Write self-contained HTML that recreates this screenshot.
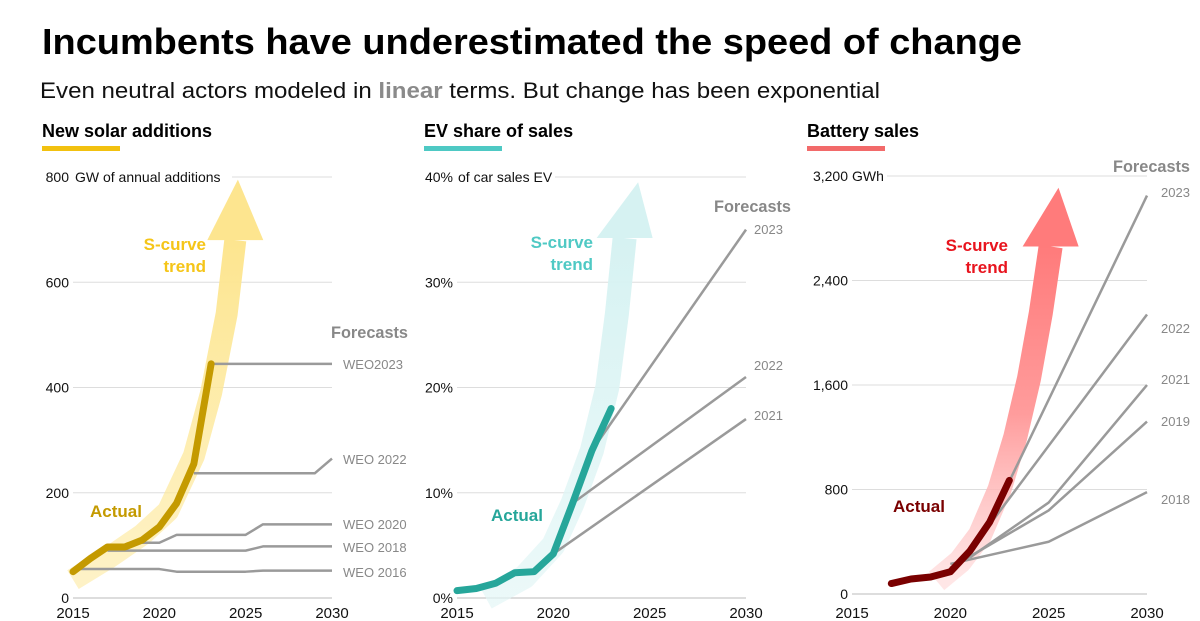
<!DOCTYPE html>
<html><head><meta charset="utf-8"><style>
html,body{margin:0;padding:0;background:#fff;}
svg{display:block;font-family:"Liberation Sans",sans-serif;}
</style></head><body>
<svg id="root" width="1200" height="621" viewBox="0 0 1200 621">
<defs>
<linearGradient id="gSolar" x1="0" y1="1" x2="0" y2="0"><stop offset="0" stop-color="#fdeaa0" stop-opacity="0.6"/><stop offset="1" stop-color="#fde58f"/></linearGradient>
<linearGradient id="gEv" x1="0" y1="1" x2="0" y2="0"><stop offset="0" stop-color="#e3f6f6" stop-opacity="0.7"/><stop offset="1" stop-color="#d6f2f2"/></linearGradient>
<linearGradient id="gBat" x1="0" y1="1" x2="0" y2="0"><stop offset="0" stop-color="#ffd6d6" stop-opacity="0.6"/><stop offset="0.5" stop-color="#ff9c9c"/><stop offset="1" stop-color="#ff7b7b"/></linearGradient>
</defs>
<text x="42" y="54" font-size="36" font-weight="bold" fill="#000" textLength="980" lengthAdjust="spacingAndGlyphs">Incumbents have underestimated the speed of change</text>
<text x="40" y="98" font-size="22" fill="#111" textLength="840" lengthAdjust="spacingAndGlyphs">Even neutral actors modeled in <tspan font-weight="bold" fill="#8a8a8a">linear</tspan> terms. But change has been exponential</text>
<g id="p1"></g>
<g id="p2"></g>
<g id="p3"></g>
</svg>
<script>
// ---------- Solar data ----------
const solarYears = [2015,2016,2017,2018,2019,2020,2021,2022,2023];
const solarActual = [50,75,97,97,110,135,180,255,445];
const solarTicks = [0,200,400,600,800];
const solarTickLabels = ["0","200","400","600","800"];
const solarFcNames = ["WEO2023","WEO 2022","WEO 2020","WEO 2018","WEO 2016"];
const solarFcYears = [[2023,2030],[2022,2029,2030],[2019,2020,2021,2025,2026,2030],[2017,2025,2026,2030],[2015,2020,2021,2025,2026,2030]];
const solarFcVals = [[445,445],[237,237,265],[105,105,120,120,140,140],[90,90,98,98],[55,55,50,50,52,52]];
const solarTrendYears = [2015,2017,2019,2020.5,2022,2023,2023.9,2024.4];
const solarTrendVals = [35,75,120,165,270,390,540,680];
const solarTip = [2024.55,795];
// ---------- EV data ----------
const evYears = [2015,2016,2017,2018,2019,2020,2021,2022,2023];
const evActual = [0.7,0.9,1.4,2.4,2.5,4.2,9,14,18];
const evTicks = [0,10,20,30,40];
const evTickLabels = ["0%","10%","20%","30%","40%"];
const evFcNames = ["2023","2022","2021"];
const evFcYears = [[2022,2030],[2021,2030],[2020,2030]];
const evFcVals = [[14,35],[9,21],[4.2,17]];
const evTrendYears = [2016.5,2018.5,2020,2021,2022,2022.8,2023.3,2023.7];
const evTrendVals = [0,2,5,9,14,20,27,34.2];
const evTip = [2024.4,39.5];
// ---------- Battery data ----------
const batYears = [2017,2018,2019,2020,2021,2022,2023];
const batActual = [80,115,130,170,330,550,870];
const batTicks = [0,800,1600,2400,3200];
const batTickLabels = ["0","800","1,600","2,400","3,200"];
const batFcNames = ["2023","2022","2021","2019","2018"];
const batFcYears = [[2022,2030],[2021,2030],[2021,2025,2030],[2020,2025,2030],[2020,2025,2030]];
const batFcVals = [[550,3050],[330,2140],[280,700,1600],[200,640,1320],[230,400,780]];
const batTrendYears = [2019.3,2020.5,2021.5,2022.5,2023.3,2024,2024.6,2025.1];
const batTrendVals = [100,250,450,800,1200,1650,2150,2660];
const batTip = [2025.5,3110];

const NS="http://www.w3.org/2000/svg";
function mk(parent,tag,attrs,text){const e=document.createElementNS(NS,tag);for(const k in attrs)e.setAttribute(k,attrs[k]);if(text!==undefined)e.textContent=text;parent.appendChild(e);return e;}

function panel(cfg){
  const g=document.getElementById(cfg.id);
  const sx=v=>cfg.x0+(v-2015)/15*(cfg.x1-cfg.x0);
  const sy=v=>cfg.y0-(v/cfg.max)*(cfg.y0-cfg.y1);
  let t=mk(g,'text',{x:cfg.tx,y:137,'font-size':18,'font-weight':'bold',fill:'#000'},cfg.title);
  
  
  let b=mk(g,'rect',{x:cfg.tx,y:146,width:78,height:5,fill:cfg.bar});
  
  
  cfg.ticks.forEach((v,i)=>{
    const y=sy(v);
    const gs = (i===cfg.ticks.length-1)?cfg.topGridStart:cfg.x0;
    let l=mk(g,'line',{x1:gs,x2:cfg.x1,y1:y,y2:y,stroke:i===0?'#bbb':'#ddd','stroke-width':1});
    
    
    let tl=mk(g,'text',{x:cfg.x0-4,y:y+5,'font-size':14,fill:'#111','text-anchor':'end'},cfg.tickLabels[i]);
    
    
  });
  let u=mk(g,'text',{x:cfg.unitX,y:sy(cfg.max)+5,'font-size':14,fill:'#111'},cfg.unit);
  
  
  [2015,2020,2025,2030].forEach(yr=>{
    let xl=mk(g,'text',{x:sx(yr),y:618,'font-size':15,fill:'#111','text-anchor':'middle'},String(yr));
    
    
  });
  const pts=cfg.trendY.map((yr,i)=>sx(yr)+','+sy(cfg.trendV[i])).join(' ');
  let tr=mk(g,'polyline',{points:pts,fill:'none',stroke:cfg.grad,'stroke-width':cfg.bandW,'stroke-linejoin':'round','stroke-linecap':'butt'});
  
  
  const n=cfg.trendY.length-1;
  const bx=sx(cfg.trendY[n]),by=sy(cfg.trendV[n]);
  let hd=mk(g,'polygon',{points:`${bx-28},${by} ${bx+28},${by} ${sx(cfg.tip[0])},${sy(cfg.tip[1])}`,fill:cfg.headFill});
  
  
  cfg.fcYears.forEach((ys,i)=>{
    const p=ys.map((yr,j)=>sx(yr)+','+sy(cfg.fcVals[i][j])).join(' ');
    let fl=mk(g,'polyline',{points:p,fill:'none',stroke:'#9a9a9a','stroke-width':2.5,'stroke-linejoin':'round'});
    
    
    let lb=mk(g,'text',{x:cfg.fcLabelX,y:cfg.fcLabelY[i],'font-size':13,fill:'#888'},cfg.fcNames[i]);
    
    
  });
  let fc=mk(g,'text',{x:cfg.fcTitle[0],y:cfg.fcTitle[1],'font-size':17,'font-weight':'bold',fill:'#888',textLength:77,lengthAdjust:'spacingAndGlyphs'},'Forecasts');
  
  
  const ap=cfg.years.map((yr,i)=>sx(yr)+','+sy(cfg.actual[i])).join(' ');
  let al=mk(g,'polyline',{points:ap,fill:'none',stroke:cfg.actColor,'stroke-width':7,'stroke-linejoin':'round','stroke-linecap':'round'});
  
  
  let at=mk(g,'text',{x:cfg.actLbl[0],y:cfg.actLbl[1],'font-size':17,'font-weight':'bold',fill:cfg.actColor},'Actual');
  
  
  let s1=mk(g,'text',{x:cfg.sLbl[0],y:cfg.sLbl[1],'font-size':17,'font-weight':'bold',fill:cfg.sColor,'text-anchor':'end'},'S-curve');
  
  
  let s2=mk(g,'text',{x:cfg.sLbl[0],y:cfg.sLbl[1]+22,'font-size':17,'font-weight':'bold',fill:cfg.sColor,'text-anchor':'end'},'trend');
  
  
}

panel({id:'p1',title:'New solar additions',tx:42,bar:'#f2c10f',x0:73,x1:332,y0:598,y1:177,max:800,
  ticks:solarTicks,tickLabels:solarTickLabels,topGridStart:232,unit:'GW of annual additions',unitX:75,
  years:solarYears,actual:solarActual,actColor:'#c49a00',actLbl:[90,517],
  fcNames:solarFcNames,fcYears:solarFcYears,fcVals:solarFcVals,fcLabelX:343,fcLabelY:[369,464,529,552,577],fcTitle:[331,338],
  trendY:solarTrendYears,trendV:solarTrendVals,tip:solarTip,grad:'url(#gSolar)',headFill:'#fde58f',bandW:22,
  sLbl:[206,250],sColor:'#f5c518'});
panel({id:'p2',title:'EV share of sales',tx:424,bar:'#4ec9c4',x0:457,x1:746,y0:598,y1:177,max:40,
  ticks:evTicks,tickLabels:evTickLabels,topGridStart:555,unit:'of car sales EV',unitX:458,
  years:evYears,actual:evActual,actColor:'#26a69a',actLbl:[491,521],
  fcNames:evFcNames,fcYears:evFcYears,fcVals:evFcVals,fcLabelX:754,fcLabelY:[234,370,420],fcTitle:[714,212],
  trendY:evTrendYears,trendV:evTrendVals,tip:evTip,grad:'url(#gEv)',headFill:'#d6f2f2',bandW:24,
  sLbl:[593,248],sColor:'#4fc9c4'});
panel({id:'p3',title:'Battery sales',tx:807,bar:'#f26a6a',x0:852,x1:1147,y0:594,y1:176,max:3200,
  ticks:batTicks,tickLabels:batTickLabels,topGridStart:887,unit:'GWh',unitX:852,
  years:batYears,actual:batActual,actColor:'#7a0000',actLbl:[893,512],
  fcNames:batFcNames,fcYears:batFcYears,fcVals:batFcVals,fcLabelX:1161,fcLabelY:[197,333,384,426,504],fcTitle:[1113,172],
  trendY:batTrendYears,trendV:batTrendVals,tip:batTip,grad:'url(#gBat)',headFill:'#ff7b7b',bandW:24,
  sLbl:[1008,251],sColor:'#e8141e'});
</script>
</body></html>
